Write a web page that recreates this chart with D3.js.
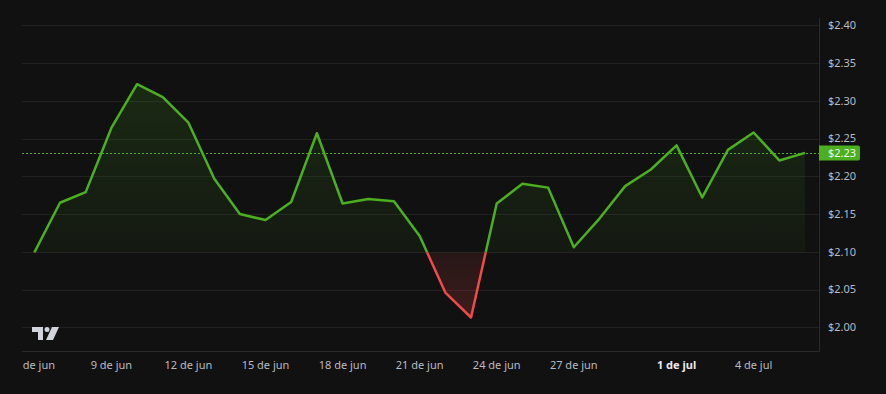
<!DOCTYPE html>
<html>
<head>
<meta charset="utf-8">
<script src="https://cdn.jsdelivr.net/npm/d3@7"></script>
<style>
  html, body { margin: 0; padding: 0; background: #111111; }
  svg { display: block; }
</style>
</head>
<body>
<svg id="chart" width="886" height="394"></svg>
<script>
// ---- data ----
const startDate = "2024-06-06";
const prices = [
  2.099, 2.165, 2.179, 2.264, 2.322, 2.305, 2.271, 2.197, 2.150, 2.142,
  2.166, 2.257, 2.164, 2.170, 2.167, 2.121, 2.046, 2.013, 2.164, 2.190,
  2.185, 2.106, 2.144, 2.187, 2.209, 2.241, 2.172, 2.235, 2.258, 2.221,
  2.231
];
const yTicks = [2.00, 2.05, 2.10, 2.15, 2.20, 2.25, 2.30, 2.35, 2.40];
const xTickDates = ["2024-06-06","2024-06-09","2024-06-12","2024-06-15","2024-06-18","2024-06-21","2024-06-24","2024-06-27","2024-07-01","2024-07-04"];
const xTickLabels = ["6 de jun","9 de jun","12 de jun","15 de jun","18 de jun","21 de jun","24 de jun","27 de jun","1 de jul","4 de jul"];
const xTickBold = [false,false,false,false,false,false,false,false,true,false];
const lastLabel = "$2.23";

const parse = d3.utcParse("%Y-%m-%d");
const t0 = parse(startDate);
const data = prices.map((v, i) => ({ date: d3.utcDay.offset(t0, i), value: v }));
const baseValue = prices[0];

// ---- layout ----
const svg = d3.select("#chart");
const plotLeft = 22, plotRight = 819, plotTop = 18, plotBottom = 351;
const x = d3.scaleUtc()
  .domain([data[0].date, data[data.length - 1].date])
  .range([34.3, 805]);
const y = d3.scaleLinear().domain([2.00, 2.40]).range([327.3, 25.3]);

const green = "#4caf1f", red = "#f04a4a";
const font = "'Noto Sans', 'Open Sans', sans-serif";

// gradients & clips
const defs = svg.append("defs");
const gG = defs.append("linearGradient").attr("id", "gGreen")
  .attr("gradientUnits", "userSpaceOnUse").attr("x1", 0).attr("x2", 0)
  .attr("y1", y(2.33)).attr("y2", y(baseValue));
gG.append("stop").attr("offset", 0).attr("stop-color", green).attr("stop-opacity", 0.16);
gG.append("stop").attr("offset", 1).attr("stop-color", green).attr("stop-opacity", 0.05);
const gR = defs.append("linearGradient").attr("id", "gRed")
  .attr("gradientUnits", "userSpaceOnUse").attr("x1", 0).attr("x2", 0)
  .attr("y1", y(baseValue)).attr("y2", y(2.01));
gR.append("stop").attr("offset", 0).attr("stop-color", red).attr("stop-opacity", 0.10);
gR.append("stop").attr("offset", 1).attr("stop-color", red).attr("stop-opacity", 0.20);

defs.append("clipPath").attr("id", "above").append("rect")
  .attr("x", 0).attr("y", 0).attr("width", 886).attr("height", y(baseValue));
defs.append("clipPath").attr("id", "below").append("rect")
  .attr("x", 0).attr("y", y(baseValue)).attr("width", 886).attr("height", 394 - y(baseValue));
defs.append("clipPath").attr("id", "xlab").append("rect")
  .attr("x", plotLeft).attr("y", plotBottom).attr("width", plotRight - plotLeft).attr("height", 43);

// gridlines
svg.append("g").selectAll("line").data(yTicks).join("line")
  .attr("x1", plotLeft).attr("x2", plotRight)
  .attr("y1", d => Math.round(y(d)) + 0.5).attr("y2", d => Math.round(y(d)) + 0.5)
  .attr("stroke", "#212121").attr("stroke-width", 1);

// axes lines
svg.append("line").attr("x1", plotLeft).attr("x2", plotRight + 0.5)
  .attr("y1", plotBottom + 0.5).attr("y2", plotBottom + 0.5)
  .attr("stroke", "#2a2a2a");
svg.append("line").attr("x1", plotRight + 0.5).attr("x2", plotRight + 0.5)
  .attr("y1", plotTop).attr("y2", plotBottom + 0.5)
  .attr("stroke", "#2a2a2a");

// areas
const area = d3.area().x(d => x(d.date)).y0(y(baseValue)).y1(d => y(d.value));
svg.append("path").datum(data).attr("d", area)
  .attr("fill", "url(#gGreen)").attr("clip-path", "url(#above)");
svg.append("path").datum(data).attr("d", area)
  .attr("fill", "url(#gRed)").attr("clip-path", "url(#below)");

// dashed last price line
svg.append("line").attr("x1", plotLeft).attr("x2", plotRight)
  .attr("y1", Math.round(y(prices[prices.length - 1])) + 0.5)
  .attr("y2", Math.round(y(prices[prices.length - 1])) + 0.5)
  .attr("stroke", green).attr("stroke-width", 1).attr("stroke-dasharray", "2,2");

// lines
const line = d3.line().x(d => x(d.date)).y(d => y(d.value));
svg.append("path").datum(data).attr("d", line)
  .attr("fill", "none").attr("stroke", green).attr("stroke-width", 2.5)
  .attr("stroke-linejoin", "round").attr("clip-path", "url(#above)");
svg.append("path").datum(data).attr("d", line)
  .attr("fill", "none").attr("stroke", red).attr("stroke-width", 2.5)
  .attr("stroke-linejoin", "round").attr("clip-path", "url(#below)");

// y labels
svg.append("g").selectAll("text").data(yTicks).join("text")
  .attr("x", 828).attr("y", d => y(d))
  .attr("dy", "0.35em")
  .attr("fill", "#b8bbc2").attr("font-family", font).attr("font-size", 11)
  .text(d => "$" + d.toFixed(2));

// last price label
const ly = y(prices[prices.length - 1]);
svg.append("path")
  .attr("d", `M${plotRight},${ly - 7.5} H${858} q2,0 2,2 V${ly + 5.5} q0,2 -2,2 H${plotRight} Z`)
  .attr("fill", green);
svg.append("text").attr("x", 828).attr("y", ly).attr("dy", "0.36em")
  .attr("fill", "#eef7e8").attr("font-family", font).attr("font-size", 11)
  .text(lastLabel);

// x labels
svg.append("g").attr("clip-path", "url(#xlab)").selectAll("text")
  .data(xTickDates.map((d, i) => ({ d: parse(d), label: xTickLabels[i], bold: xTickBold[i] })))
  .join("text")
  .attr("x", d => x(d.d)).attr("y", 365).attr("dy", "0.35em")
  .attr("text-anchor", "middle")
  .attr("fill", d => d.bold ? "#e8e9ec" : "#b8bbc2")
  .attr("font-weight", d => d.bold ? "bold" : "normal")
  .attr("font-family", font).attr("font-size", 11)
  .text(d => d.label);

// TradingView-like logo
const logo = svg.append("g").attr("transform", "translate(32,327)").attr("fill", "#d1d4dc");
logo.append("path").attr("d", "M0,0 H11 V13 H6 V5 H0 Z");
logo.append("circle").attr("cx", 15).attr("cy", 2.5).attr("r", 2.5);
logo.append("path").attr("d", "M20,0 H27 L21,13 H14 Z");
</script>
</body>
</html>
